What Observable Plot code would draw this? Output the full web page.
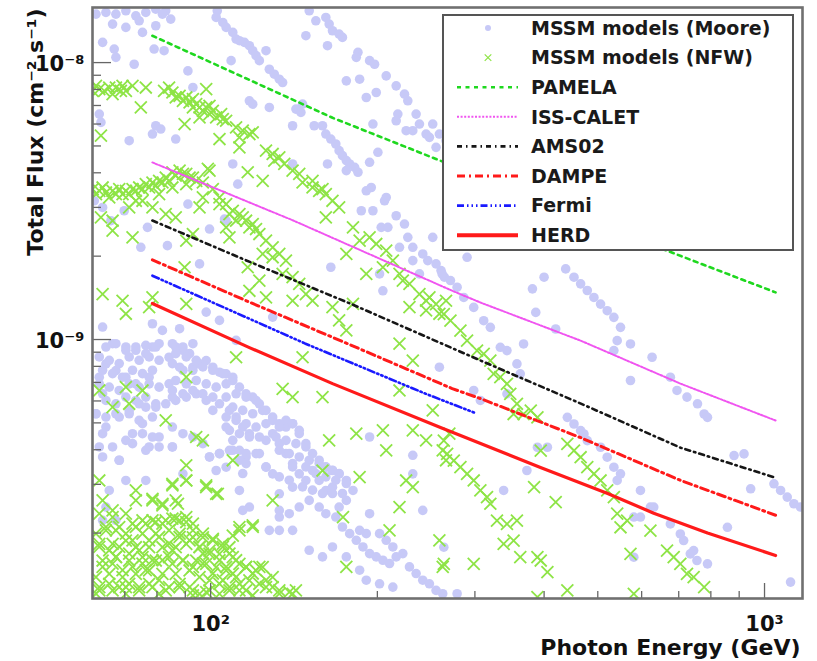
<!DOCTYPE html>
<html><head><meta charset="utf-8">
<script src="https://cdn.jsdelivr.net/npm/d3@7"></script>
<script src="https://cdn.jsdelivr.net/npm/@observablehq/plot@0.6"></script>
<style>body{margin:0;background:#fff}</style>
</head><body><div id="chart"></div>
<script>
// ---- Data ----
// MSSM scatter points as [log10(E/GeV), log10(flux / cm^-2 s^-1)]
const mooreLog = [
[1.793,-7.825],[1.811,-7.819],[1.829,-7.825],[1.847,-7.813],[1.865,-7.831],[1.883,-7.819],[1.901,-7.807],[1.919,-7.813],[1.823,-7.861],[1.847,-7.873],[1.871,-7.849],[1.877,-7.891],[1.901,-7.867],[1.913,-7.825],[1.928,-7.843],[1.805,-7.927],[1.826,-7.951],[1.829,-7.981],[1.862,-8.006],[1.898,-7.951],[1.916,-7.957],[1.959,-8.030],[1.968,-8.090],[1.901,-8.228],[1.910,-8.240],[1.895,-8.258],[1.853,-8.282],[1.937,-8.276],[1.799,-8.186],[1.802,-8.216],[1.790,-8.499],[1.805,-8.523],[1.820,-8.571],[1.844,-8.535],[1.886,-8.595],[1.874,-8.667],[1.922,-8.661],[1.959,-8.511],[1.998,-8.601],[1.980,-8.727],[2.025,-8.565],
[2.012,-7.813],[2.010,-7.837],[2.022,-7.855],[2.028,-7.873],[2.040,-7.891],[2.046,-7.915],[2.061,-7.927],[2.070,-7.939],[2.076,-7.957],[2.082,-7.975],[2.088,-7.993],[2.100,-7.957],[2.052,-7.921],[2.106,-8.024],[2.115,-8.042],[2.124,-8.060],[2.130,-8.072],[2.070,-8.138],[2.076,-8.150],[2.106,-8.162],[2.037,-7.993],[2.148,-8.228],[2.154,-8.168],[2.163,-8.180],[2.166,-8.150],[2.187,-8.228],[2.202,-8.228],[2.208,-8.258],[2.217,-8.276],[2.226,-8.294],[2.232,-8.318],[2.238,-8.336],[2.245,-8.354],[2.251,-8.366],[2.260,-8.378],[2.266,-8.396],[2.211,-8.366],[2.245,-8.390],[2.287,-8.360],[2.302,-8.324],[2.281,-8.463],[2.290,-8.451],[2.314,-8.499],[2.317,-8.487],[2.272,-8.535],[2.293,-8.535],[2.308,-8.595],[2.320,-8.595],[2.335,-8.553],[2.350,-8.583],[2.341,-8.667],[2.356,-8.631],[2.365,-8.667],[2.383,-8.691],[2.401,-8.631],[2.392,-8.715],[2.407,-8.727],[2.416,-8.751],[2.422,-8.775],[2.365,-8.715],[2.377,-8.763],[2.311,-8.824],[2.305,-8.763],[2.217,-8.739],[2.148,-8.366],[2.049,-8.439],[2.040,-8.366],[2.028,-8.571],
[2.178,-7.813],[2.190,-7.849],[2.208,-7.837],[2.214,-7.861],[2.220,-7.885],[2.232,-7.897],[2.238,-7.909],[2.172,-7.903],[2.211,-7.939],[2.266,-7.963],[2.263,-7.981],[2.287,-7.993],[2.296,-8.006],[2.245,-8.066],[2.269,-8.060],[2.317,-8.048],[2.335,-8.084],[2.350,-8.114],[2.356,-8.138],[2.299,-8.108],[2.281,-8.126],[2.338,-8.186],[2.335,-8.210],[2.371,-8.186],[2.377,-8.222],[2.353,-8.246],[2.365,-8.246],[2.389,-8.258],[2.401,-8.222],[2.395,-8.270],[2.413,-8.258],[2.425,-8.282],[2.407,-8.306],[2.293,-8.222],
[1.805,-8.955],[1.823,-9.015],[1.847,-9.027],[1.865,-9.039],[1.883,-9.051],[1.895,-9.027],[1.907,-9.015],[1.925,-9.064],[1.937,-9.027],[1.950,-9.039],[1.962,-9.051],[1.944,-9.100],[1.968,-9.100],[1.980,-9.088],[1.992,-9.076],[2.004,-9.100],[2.016,-9.118],[2.028,-9.124],[2.040,-9.148],[2.052,-9.172],[2.064,-9.196],[2.076,-9.208],[2.088,-9.232],[2.100,-9.256],[2.112,-9.280],[2.124,-9.304],[2.136,-9.316],[2.148,-9.304],[2.160,-9.340],[2.172,-9.376],[2.184,-9.412],[2.196,-9.436],[2.208,-9.461],[2.220,-9.473],[2.232,-9.485],[2.245,-9.509],[2.257,-9.545],[2.245,-9.581],[2.232,-9.605],[2.226,-9.641],[2.238,-9.677],[2.251,-9.701],[2.263,-9.725],[2.275,-9.749],[2.287,-9.773],[2.299,-9.785],[2.311,-9.797],[2.323,-9.809],[2.335,-9.785],[2.347,-9.773],[2.359,-9.821],[2.371,-9.845],[2.383,-9.869],[2.395,-9.882],[2.407,-9.906],[2.419,-9.918],[2.317,-9.725],[2.305,-9.701],[2.329,-9.749],[2.281,-9.701],[2.269,-9.689],
[1.811,-9.088],[1.829,-9.112],[1.847,-9.136],[1.865,-9.160],[1.889,-9.136],[1.907,-9.172],[1.925,-9.160],[1.937,-9.220],[1.956,-9.208],[1.974,-9.196],[1.992,-9.220],[2.004,-9.256],[2.016,-9.232],[2.034,-9.256],[2.046,-9.280],[2.058,-9.316],[2.070,-9.340],[2.028,-9.316],[2.040,-9.364],[2.052,-9.400],[2.064,-9.424],[2.082,-9.412],[2.100,-9.364],[2.112,-9.340],[2.124,-9.376],[2.136,-9.412],[2.148,-9.448],[2.160,-9.485],[2.172,-9.509],[2.184,-9.473],[2.196,-9.509],[2.208,-9.545],[2.220,-9.533],[2.178,-9.581],[2.196,-9.605],[2.208,-9.629],[2.148,-9.533],[2.124,-9.557],[2.112,-9.485],[2.100,-9.461],[2.124,-9.617],[2.142,-9.629],[2.160,-9.605],
[1.799,-9.136],[1.805,-9.196],[1.793,-9.268],[1.811,-9.316],[1.835,-9.280],[1.853,-9.256],[1.871,-9.232],[1.883,-9.208],[1.901,-9.244],[1.877,-9.304],[1.859,-9.340],[1.847,-9.364],[1.889,-9.388],[1.907,-9.352],[1.931,-9.316],[1.950,-9.340],[1.968,-9.352],[1.986,-9.376],[1.998,-9.424],[2.016,-9.412],[2.034,-9.400],[2.052,-9.436],[2.064,-9.448],[2.028,-9.461],[2.052,-9.545],[2.070,-9.605],[2.106,-9.689],[2.124,-9.689],[2.148,-9.689],[2.178,-9.761],[2.202,-9.785],[2.220,-9.749],[2.245,-9.785],[2.269,-9.833],[2.281,-9.869],[2.305,-9.882],[2.329,-9.894],[1.805,-9.340],[1.799,-9.388],[1.835,-9.436],[1.847,-9.509],[1.817,-9.545],[1.811,-9.605],[1.883,-9.509],[1.931,-9.388],[1.950,-9.485],[2.010,-9.473],[2.058,-9.617],[2.124,-9.641],[1.913,-8.967],[1.895,-8.943],[1.944,-8.961],[1.992,-8.901],[2.016,-8.931],[2.046,-9.003],[2.112,-8.919],[2.413,-9.100],[2.365,-9.418],[2.287,-9.352],[2.365,-9.485],[2.383,-9.617],[2.287,-9.629],[1.805,-9.653],[1.829,-9.653],
[1.811,-9.027],[1.829,-9.015],[1.847,-9.039],[1.865,-9.027],[1.883,-9.021],[1.901,-9.027],[1.799,-9.063],[1.817,-9.075],[1.835,-9.087],[1.853,-9.063],[1.871,-9.075],[1.889,-9.063],[1.907,-9.075],[1.805,-9.111],[1.823,-9.123],[1.841,-9.136],[1.859,-9.111],[1.877,-9.123],[1.895,-9.111],[1.799,-9.160],[1.817,-9.172],[1.835,-9.184],[1.853,-9.160],[1.871,-9.172],[1.889,-9.160],[1.811,-9.220],[1.829,-9.232],[1.847,-9.208],[1.865,-9.220],[1.883,-9.244],[1.901,-9.232],[1.919,-9.232],[1.931,-9.208],[1.793,-9.268],[1.811,-9.280],[1.829,-9.268],[1.853,-9.268],[1.871,-9.292],[1.895,-9.280],
[1.931,-9.015],[1.950,-9.027],[1.968,-9.015],[1.937,-9.051],[1.956,-9.063],[1.974,-9.075],[1.931,-9.087],[1.950,-9.111],[1.968,-9.111],[1.986,-9.099],[2.004,-9.111],[2.022,-9.123],[2.040,-9.136],[1.937,-9.148],[1.956,-9.160],[1.974,-9.148],[1.992,-9.160],[2.010,-9.172],[2.028,-9.160],[1.931,-9.184],[1.950,-9.196],[1.968,-9.184],[1.986,-9.196],[2.004,-9.208],[2.028,-9.208],[2.046,-9.196],[2.064,-9.208],[2.082,-9.220],[2.040,-9.244],[2.058,-9.256],[2.076,-9.268],[2.094,-9.256],[2.028,-9.280],[2.046,-9.292],[2.064,-9.304],[2.082,-9.316],[2.100,-9.304],[2.034,-9.328],[2.052,-9.340],[2.070,-9.352],[2.088,-9.352],[2.112,-9.292],[2.124,-9.316],[2.136,-9.292],[2.148,-9.304],[2.160,-9.328],[2.118,-9.352],[2.136,-9.364],[2.154,-9.376],[2.172,-9.388],[2.124,-9.400],[2.142,-9.412],[2.160,-9.424],[2.178,-9.436],[2.196,-9.448],[2.208,-9.460],[2.220,-9.472],[2.232,-9.484],[2.190,-9.484],[2.208,-9.496],[2.226,-9.508],[2.245,-9.520],[2.172,-9.460],[2.148,-9.460],
[1.877,-9.340],[1.895,-9.352],[1.859,-9.376],[1.883,-9.400],[1.907,-9.388],[1.931,-9.388],[1.823,-9.388],[1.805,-9.424],[1.835,-9.436],[1.998,-9.424],[2.016,-9.412],[2.040,-9.400],[2.064,-9.412],[2.088,-9.412],[2.058,-9.484],[2.100,-9.460],[2.124,-9.496],[2.142,-9.508],[2.166,-9.532],[2.184,-9.544],[2.202,-9.556],[2.220,-9.556],[2.238,-9.556],
[2.463,-8.703],[2.418,-8.763],[2.433,-8.787],[2.445,-8.811],[2.457,-8.848],[2.475,-8.884],[2.493,-8.932],[2.505,-8.956],[2.523,-9.028],[2.535,-9.040],[2.553,-9.088],[2.559,-9.124],[2.565,-9.016],[2.602,-8.775],[2.581,-8.817],[2.587,-8.902],[2.623,-8.962],[2.641,-8.745],[2.656,-8.775],[2.668,-8.799],[2.680,-8.823],[2.692,-8.848],[2.704,-8.872],[2.716,-8.896],[2.728,-8.920],[2.740,-8.956],[2.734,-9.004],[2.758,-9.016],[2.728,-9.040],[2.797,-9.064],[2.758,-9.148],[2.830,-9.136],[2.842,-9.184],[2.860,-9.208],[2.879,-9.232],[2.891,-9.269],[2.897,-9.281],[2.945,-9.419],[2.963,-9.413],[2.975,-9.539],[3.017,-9.521],[3.029,-9.545],[3.041,-9.569],[3.053,-9.593],[3.065,-9.605],[2.644,-9.281],[2.656,-9.305],[2.668,-9.329],[2.674,-9.341],[2.680,-9.365],[2.704,-9.389],[2.716,-9.425],[2.728,-9.461],[2.740,-9.485],[2.734,-9.509],[2.776,-9.545],[2.800,-9.605],[2.830,-9.666],[2.848,-9.702],[2.854,-9.726],[2.872,-9.762],[2.878,-9.798],[2.897,-9.810],[2.866,-9.774],[2.475,-9.184],[2.487,-9.220],[2.535,-9.196],[2.571,-9.473],[2.590,-9.389],[2.608,-9.389],[2.776,-9.641],[2.794,-9.605],[2.933,-9.678],[2.529,-9.545],[2.421,-9.750],[2.445,-9.918],[3.047,-9.876],[2.764,-9.641],[2.764,-9.786]
];
const nfwLog = [
[1.787,-8.102],[1.799,-8.096],[1.817,-8.090],[1.829,-8.090],[1.841,-8.084],[1.847,-8.102],[1.883,-8.090],[1.916,-8.102],[1.931,-8.108],[1.944,-8.120],[1.956,-8.126],[1.968,-8.132],[1.950,-8.138],[1.968,-8.162],[1.980,-8.162],[1.992,-8.162],[1.998,-8.186],[2.010,-8.198],[2.022,-8.204],[1.992,-8.096],[1.874,-8.162],[1.953,-8.222],[1.980,-8.198],[2.046,-8.234],[2.058,-8.246],[2.070,-8.258],[2.052,-8.270],[2.076,-8.252],[2.100,-8.318],[2.112,-8.330],[2.124,-8.342],[2.115,-8.354],[2.133,-8.366],[2.148,-8.390],[2.160,-8.402],[2.166,-8.433],[2.184,-8.451],[2.196,-8.463],[2.208,-8.475],[2.220,-8.499],[2.232,-8.523],[2.184,-8.427],[2.202,-8.457],[2.094,-8.427],[2.067,-8.396],[1.995,-8.384],[2.052,-8.306],[2.016,-8.276],[1.802,-8.264],
[1.793,-8.084],[1.808,-8.102],[1.823,-8.114],[1.838,-8.102],[1.859,-8.084],[1.925,-8.090],[1.937,-8.126],[1.962,-8.144],[1.974,-8.150],[1.986,-8.174],[2.004,-8.174],[2.019,-8.186],[2.028,-8.210],[1.998,-8.156],
[1.787,-8.457],[1.799,-8.463],[1.811,-8.469],[1.823,-8.463],[1.835,-8.457],[1.847,-8.463],[1.859,-8.457],[1.871,-8.451],[1.883,-8.439],[1.895,-8.433],[1.907,-8.427],[1.919,-8.415],[1.931,-8.396],[1.944,-8.390],[1.956,-8.402],[1.968,-8.415],[1.986,-8.433],[2.004,-8.457],[2.016,-8.487],[2.028,-8.511],[2.040,-8.535],[2.052,-8.547],[2.064,-8.571],[2.076,-8.583],[2.082,-8.601],[2.100,-8.643],[2.112,-8.667],[2.124,-8.691],[2.136,-8.715],[2.112,-8.703],[2.094,-8.691],[2.130,-8.763],[2.148,-8.775],[2.160,-8.799],[2.172,-8.836],[2.184,-8.860],[2.208,-8.559],[2.257,-8.595],[2.269,-8.643],[2.287,-8.631],[2.299,-8.655],[2.317,-8.679],[2.329,-8.715],[2.341,-8.763],[2.347,-8.787],[2.311,-8.739],[2.245,-8.691],[2.281,-8.763],[2.359,-8.799],[2.377,-8.836],[2.395,-8.848],[2.407,-8.872],[2.389,-8.860],[2.425,-8.860],[1.986,-8.487],[1.980,-8.523],[1.937,-8.559],[1.919,-8.547],[1.895,-8.523],[1.865,-8.499],[1.823,-8.571],[1.802,-8.559],[1.823,-8.607],[1.859,-8.631],[1.956,-8.643],[1.953,-8.739],[1.895,-8.848],[1.841,-8.860],[1.805,-8.836],[2.067,-8.739],[2.088,-8.787],[2.100,-8.848],[2.148,-8.860],[2.070,-8.824],[2.034,-8.631],[2.028,-8.595],[1.998,-8.390],[1.968,-8.619],
[1.793,-8.475],[1.805,-8.451],[1.817,-8.487],[1.829,-8.475],[1.841,-8.475],[1.853,-8.475],[1.865,-8.463],[1.877,-8.457],[1.889,-8.451],[1.901,-8.445],[1.913,-8.433],[1.925,-8.427],[1.937,-8.408],[1.950,-8.402],[1.962,-8.415],[1.974,-8.427],[1.853,-8.523],[1.877,-8.499],[1.907,-8.475],[1.931,-8.451],[1.956,-8.439],[2.016,-8.511],[2.034,-8.547],[2.046,-8.571],[2.058,-8.559],[2.070,-8.595],[2.088,-8.619],
[1.793,-9.701],[1.811,-9.677],[1.829,-9.689],[1.847,-9.701],[1.865,-9.677],[1.883,-9.665],[1.901,-9.659],[1.919,-9.653],[1.937,-9.647],[1.956,-9.659],[1.968,-9.689],[1.986,-9.701],[2.004,-9.725],[2.022,-9.749],[2.034,-9.773],[2.046,-9.797],[2.064,-9.821],[2.076,-9.845],[2.088,-9.821],[2.100,-9.869],[2.112,-9.894],[1.799,-9.749],[1.817,-9.761],[1.835,-9.749],[1.853,-9.773],[1.871,-9.761],[1.889,-9.725],[1.907,-9.713],[1.925,-9.737],[1.944,-9.713],[1.962,-9.725],[1.980,-9.749],[1.998,-9.773],[2.016,-9.797],[2.028,-9.821],[2.040,-9.845],[2.052,-9.882],[2.064,-9.906],[1.805,-9.821],[1.823,-9.809],[1.841,-9.833],[1.859,-9.821],[1.877,-9.809],[1.895,-9.797],[1.913,-9.797],[1.931,-9.809],[1.950,-9.797],[1.968,-9.821],[1.986,-9.809],[2.004,-9.845],[2.022,-9.869],[2.034,-9.906],[1.799,-9.894],[1.817,-9.882],[1.835,-9.894],[1.853,-9.882],[1.871,-9.894],[1.889,-9.882],[1.907,-9.869],[1.925,-9.894],[1.944,-9.882],[1.962,-9.894],[1.980,-9.918],[1.998,-9.906],[2.016,-9.918],[1.793,-9.918],[1.847,-9.918],[1.907,-9.918],[1.968,-9.924],[2.076,-9.924],[2.124,-9.918],[2.148,-9.918],[1.859,-9.725],[1.829,-9.785],[1.883,-9.833],[1.931,-9.761],[1.986,-9.773],
[1.805,-9.581],[1.799,-9.629],[1.823,-9.641],[1.847,-9.629],[1.811,-9.689],[1.835,-9.677],[1.859,-9.665],[1.877,-9.653],[1.895,-9.653],[1.913,-9.665],[1.931,-9.647],[1.944,-9.653],[1.956,-9.641],[1.968,-9.665],[1.877,-9.701],[1.901,-9.701],[1.925,-9.689],[1.944,-9.701],[1.968,-9.714],[1.986,-9.714],[2.004,-9.720],[2.022,-9.738],[2.034,-9.750],[1.799,-9.738],[1.823,-9.738],[1.847,-9.726],[1.865,-9.750],[1.889,-9.750],[1.913,-9.750],[1.937,-9.750],[1.956,-9.738],[1.980,-9.750],[1.998,-9.762],[2.016,-9.774],[2.040,-9.786],[2.052,-9.810],[2.064,-9.822],[2.082,-9.834],[2.094,-9.822],[2.112,-9.858],[1.805,-9.798],[1.829,-9.786],[1.853,-9.798],[1.877,-9.786],[1.901,-9.798],[1.925,-9.786],[1.950,-9.798],[1.974,-9.798],[1.992,-9.810],[2.010,-9.822],[2.028,-9.834],[2.046,-9.858],[2.070,-9.870],[2.088,-9.882],[2.100,-9.894],[2.124,-9.906],[2.142,-9.912],[2.154,-9.906],[1.793,-9.858],[1.817,-9.846],[1.841,-9.858],[1.865,-9.846],[1.889,-9.834],[1.913,-9.846],[1.937,-9.846],[1.962,-9.834],[1.980,-9.858],[1.998,-9.870],[2.016,-9.882],[2.034,-9.894],[2.052,-9.906],[1.799,-9.906],[1.823,-9.906],[1.847,-9.894],[1.871,-9.906],[1.895,-9.894],[1.919,-9.906],[1.944,-9.894],[1.968,-9.906],[1.992,-9.912],[1.865,-9.581],[1.895,-9.575],[1.913,-9.599],[1.941,-9.593],[1.931,-9.527],[1.992,-9.527],[2.013,-9.557],[1.956,-9.509],[2.052,-9.689],[2.076,-9.671],[2.040,-9.708],
[1.847,-8.907],[1.889,-8.883],[1.956,-8.871],[2.046,-9.064],[2.130,-9.178],[2.148,-9.208],[2.202,-9.208],[1.799,-9.184],[1.847,-9.172],[1.877,-9.184],[1.823,-9.244],[1.853,-9.232],[1.919,-9.292],[1.956,-9.136],[1.974,-9.352],[1.986,-9.364],[2.040,-9.436],[1.956,-9.454],[1.931,-9.521],[1.956,-9.509],[1.865,-9.545],[1.895,-9.581],[1.913,-9.593],[1.937,-9.581],[1.992,-9.533],[2.010,-9.557],[1.799,-9.509],[1.823,-9.617],[2.112,-9.581],[2.052,-9.677],[2.076,-9.677],[2.214,-9.364],[2.202,-9.473],[2.263,-9.340],[2.269,-9.497],[2.317,-9.400],[2.311,-9.328],[2.353,-9.509],[2.365,-9.533],[2.341,-9.605],[2.239,-9.641],[2.245,-9.821],[2.323,-9.689],[2.413,-9.725],[2.419,-9.821],[2.425,-9.436],[2.431,-9.340],[2.389,-9.364],[2.365,-9.328],[2.419,-9.400],[2.166,-9.064],[2.341,-9.184],[2.401,-9.256],[2.220,-8.883],[2.232,-8.931],[2.245,-8.967],[2.257,-8.871],[2.359,-8.883],[2.389,-8.895],[2.413,-8.907],[2.341,-9.015],[2.365,-9.076],
[2.421,-8.908],[2.433,-8.932],[2.451,-8.968],[2.463,-9.004],[2.481,-9.040],[2.493,-9.052],[2.505,-9.076],[2.511,-9.124],[2.523,-9.136],[2.535,-9.160],[2.541,-9.196],[2.553,-9.232],[2.565,-9.269],[2.578,-9.257],[2.590,-9.281],[2.547,-9.269],[2.421,-9.365],[2.427,-9.413],[2.439,-9.437],[2.451,-9.461],[2.463,-9.485],[2.475,-9.509],[2.487,-9.545],[2.499,-9.569],[2.505,-9.593],[2.517,-9.654],[2.535,-9.666],[2.553,-9.654],[2.529,-9.738],[2.547,-9.726],[2.559,-9.786],[2.590,-9.786],[2.596,-9.798],[2.608,-9.840],[2.475,-9.810],[2.421,-9.810],[2.596,-9.401],[2.584,-9.533],[2.623,-9.587],[2.644,-9.377],[2.656,-9.401],[2.668,-9.425],[2.680,-9.461],[2.692,-9.485],[2.704,-9.509],[2.716,-9.545],[2.728,-9.569],[2.734,-9.629],[2.752,-9.654],[2.740,-9.678],[2.758,-9.774],[2.794,-9.690],[2.824,-9.762],[2.836,-9.786],[2.848,-9.810],[2.860,-9.846],[2.872,-9.858],[2.891,-9.894],[2.644,-9.906],[2.764,-9.918],[2.590,-9.930]
];

// Sensitivity curves: energy (GeV) and flux (cm^-2 s^-1)
const pamelaE   = [78.5, 166, 270, 668, 1047];
const pamelaF   = [1.25e-8, 6.32e-9, 4.29e-9, 2.09e-9, 1.48e-9];
const caletE    = [78.5, 141, 273, 307, 466, 705, 1047];
const caletF    = [4.36e-9, 2.69e-9, 1.50e-9, 1.36e-9, 9.9e-10, 6.93e-10, 5.1e-10];
const ams02E    = [78.5, 116, 180, 307, 466, 705, 1047];
const ams02F    = [2.69e-9, 1.93e-9, 1.34e-9, 8.40e-10, 5.87e-10, 4.07e-10, 3.17e-10];
const dampeE    = [78.5, 116, 180, 273, 307, 466, 705, 1047];
const dampeF    = [1.94e-9, 1.38e-9, 9.51e-10, 6.65e-10, 6.12e-10, 4.42e-10, 3.10e-10, 2.32e-10];
const fermiE    = [78.5, 148, 244, 299];
const fermiF    = [1.70e-9, 9.68e-10, 6.38e-10, 5.45e-10];
const herdE     = [78.5, 117.5, 166, 260, 394, 521, 631, 789, 1047];
const herdF     = [1.35e-9, 9.35e-10, 6.93e-10, 4.81e-10, 3.45e-10, 2.78e-10, 2.36e-10, 2.00e-10, 1.66e-10];

// Axis ticks and labels
const xMajor = [100, 1000];
const xMajorLabels = ["10²", "10³"];
const xMinor = [70, 80, 90, 200, 300, 400, 500, 600, 700, 800, 900];
const yMajor = [1e-9, 1e-8];
const yMajorLabels = ["10⁻⁹", "10⁻⁸"];
const yMinor = [2e-10,3e-10,4e-10,5e-10,6e-10,7e-10,8e-10,9e-10,2e-9,3e-9,4e-9,5e-9,6e-9,7e-9,8e-9,9e-9];
const xTitle = "Photon Energy (GeV)";
const yTitle = "Total Flux (cm⁻² s⁻¹)";
const legendLabels = ["MSSM models (Moore)","MSSM models (NFW)","PAMELA","ISS-CALET","AMS02","DAMPE","Fermi","HERD"];

// ---- Build ----
const FONT = "DejaVu Sans";
const W = 817, H = 661, mL = 92, mR = 15, mT = 7, mB = 63;
const xDomain = [61.2, 1171], yDomain = [1.161e-10, 1.581e-8];
const xPxPerDec = (W - mL - mR) / Math.log10(xDomain[1] / xDomain[0]);
const yPxPerDec = (H - mT - mB) / Math.log10(yDomain[1] / yDomain[0]);

const toPts = arr => arr.map(([a, b]) => ({E: Math.pow(10, a), F: Math.pow(10, b)}));
const moore = toPts(mooreLog), nfw = toPts(nfwLog);
const zip = (E, F) => E.map((e, i) => ({E: e, F: F[i]}));

const MOORE = "#c7c9f7", NFW = "#8ee446";
const series = [
  {name: "PAMELA",    data: zip(pamelaE, pamelaF), stroke: "#1fd81f", width: 2.6, dash: "4,4.5"},
  {name: "ISS-CALET", data: zip(caletE, caletF),   stroke: "#f055f0", width: 2,   dash: "2,1.6"},
  {name: "AMS02",     data: zip(ams02E, ams02F),   stroke: "#161616", width: 2.6, dash: "5,4,1.5,4"},
  {name: "DAMPE",     data: zip(dampeE, dampeF),   stroke: "#ff1a1a", width: 3,   dash: "8,4,2,4"},
  {name: "Fermi",     data: zip(fermiE, fermiF),   stroke: "#1a1aff", width: 2.6, dash: "7,3,1.5,3,1.5,3,1.5,3"},
  {name: "HERD",      data: zip(herdE, herdF),     stroke: "#ff1a1a", width: 3.2, dash: null}
];

const tickStroke = "#666";
const plot = Plot.plot({
  width: W, height: H,
  marginLeft: mL, marginRight: mR, marginTop: mT, marginBottom: mB,
  x: {type: "log", domain: xDomain, axis: null},
  y: {type: "log", domain: yDomain, axis: null},
  style: {background: "#fff", fontFamily: FONT},
  marks: [
    Plot.dot(moore, {x: "E", y: "F", r: 4.8, fill: MOORE, stroke: "none", clip: true}),
    Plot.dot(nfw, {x: "E", y: "F", r: 5.5, symbol: "times", stroke: NFW, strokeWidth: 1.8, fill: "none", clip: true}),
    ...series.map(s => Plot.line(s.data, {x: "E", y: "F", stroke: s.stroke, strokeWidth: s.width,
        strokeDasharray: s.dash || undefined, clip: true})),
    // ticks (inside the frame, ROOT style)
    Plot.ruleX(xMajor, {x: d => d, y1: () => yDomain[0], y2: () => yDomain[0] * Math.pow(10, 15 / yPxPerDec), stroke: tickStroke, strokeWidth: 1.3}),
    Plot.ruleX(xMinor, {x: d => d, y1: () => yDomain[0], y2: () => yDomain[0] * Math.pow(10, 7 / yPxPerDec), stroke: tickStroke, strokeWidth: 1.3}),
    Plot.ruleY(yMajor, {y: d => d, x1: () => xDomain[0], x2: () => xDomain[0] * Math.pow(10, 19 / xPxPerDec), stroke: tickStroke, strokeWidth: 1.3}),
    Plot.ruleY(yMinor, {y: d => d, x1: () => xDomain[0], x2: () => xDomain[0] * Math.pow(10, 9 / xPxPerDec), stroke: tickStroke, strokeWidth: 1.3}),
    Plot.frame({stroke: "#707070", strokeWidth: 2.6}),
    // tick labels
    Plot.text(xMajor, {x: d => d, frameAnchor: "bottom", text: (d, i) => xMajorLabels[i], dy: 26,
      fontSize: 21, fontWeight: "bold", fill: "#111", textAnchor: "middle", lineAnchor: "middle"}),
    Plot.text(yMajor, {y: d => d, frameAnchor: "left", text: (d, i) => yMajorLabels[i], dx: -8, dy: 2,
      fontSize: 21, fontWeight: "bold", fill: "#111", textAnchor: "end", lineAnchor: "middle"}),
    // axis titles
    Plot.text([xTitle], {frameAnchor: "bottom-right", text: d => d, dx: -2, dy: 56,
      fontSize: 22, fontWeight: "bold", fill: "#111", textAnchor: "end", lineAnchor: "bottom"}),
    Plot.text([yTitle], {frameAnchor: "top-left", text: d => d, rotate: -90, dx: -50, dy: 1,
      fontSize: 22, fontWeight: "bold", fill: "#111", textAnchor: "end", lineAnchor: "bottom"})
  ]
});

// ---- Legend (ROOT-style box inside the frame) ----
const svg = d3.select(plot);
const lg = svg.append("g").attr("font-family", FONT).attr("text-anchor", "start");
lg.append("rect").attr("x", 443).attr("y", 15).attr("width", 350).attr("height", 235)
  .attr("fill", "#fff").attr("stroke", "#555").attr("stroke-width", 2);
const rowY = i => 28 + i * 29.6;
const symX = 488, lineX1 = 457, lineX2 = 518, textX = 531;
legendLabels.forEach((lab, i) => {
  const y = rowY(i);
  if (i === 0) {
    lg.append("circle").attr("cx", symX).attr("cy", y).attr("r", 3).attr("fill", MOORE);
  } else if (i === 1) {
    lg.append("path").attr("d", d3.symbol(d3.symbolTimes, 30)()).attr("transform", `translate(${symX},${y})`)
      .attr("stroke", NFW).attr("stroke-width", 1.2).attr("fill", "none");
  } else {
    const s = series[i - 2];
    lg.append("line").attr("x1", lineX1).attr("x2", lineX2).attr("y1", y).attr("y2", y)
      .attr("stroke", s.stroke).attr("stroke-width", s.name === "HERD" ? 4 : s.width)
      .attr("stroke-dasharray", s.dash);
  }
  lg.append("text").attr("x", textX).attr("y", y).attr("dy", "0.36em").attr("text-anchor", "start")
    .attr("font-size", 19).attr("font-weight", "bold").attr("fill", "#1a1a1a").text(lab);
});

document.getElementById("chart").appendChild(plot);
</script>
</body></html>
